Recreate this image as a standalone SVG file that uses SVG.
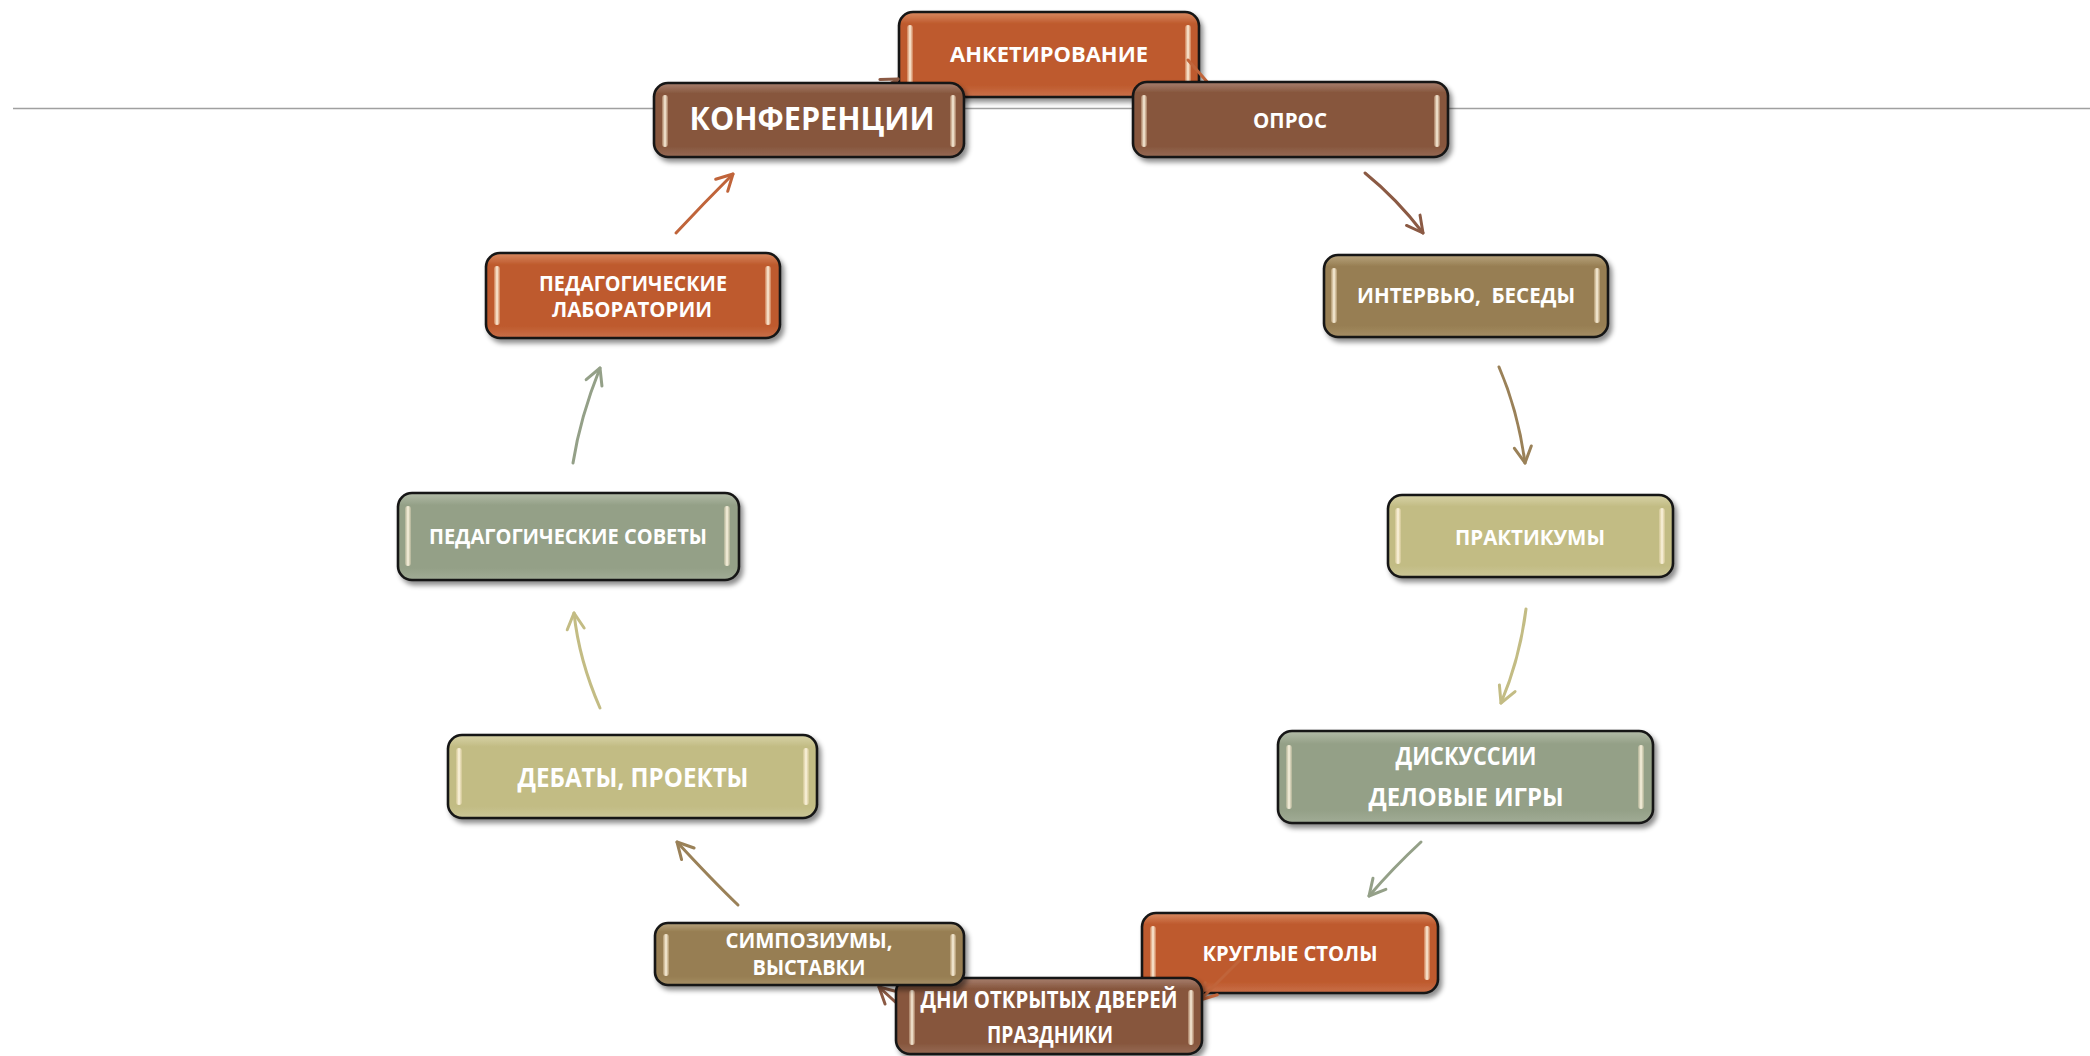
<svg xmlns="http://www.w3.org/2000/svg" width="2090" height="1056" viewBox="0 0 2090 1056">
<defs>
<style>
.box{stroke:#151515;stroke-width:2.6;filter:url(#sh)}
.bar{fill:url(#gbar)}
.t{font-family:"Open Sans","Noto Sans","DejaVu Sans",sans-serif;font-weight:700;fill:#ffffff;text-anchor:middle}
.c{fill:none;stroke-width:3;stroke-linecap:round}
</style>
<filter id="sh" x="-10%" y="-20%" width="125%" height="150%">
<feDropShadow dx="3" dy="4" stdDeviation="2.5" flood-color="#000" flood-opacity="0.45"/>
</filter>
<linearGradient id="gbar" x1="0" y1="0" x2="1" y2="0">
<stop offset="0" stop-color="#FFE9C8" stop-opacity="0.25"/>
<stop offset="0.5" stop-color="#FFF8E6" stop-opacity="0.95"/>
<stop offset="1" stop-color="#FFE9C8" stop-opacity="0.25"/>
</linearGradient>
<linearGradient id="g-or" x1="0" y1="0" x2="0" y2="1">
<stop offset="0" stop-color="#D98A62"/><stop offset="0.14" stop-color="#BE5A2D"/><stop offset="0.86" stop-color="#BE5A2D"/><stop offset="1" stop-color="#C9704A"/>
</linearGradient>
<linearGradient id="g-br" x1="0" y1="0" x2="0" y2="1">
<stop offset="0" stop-color="#A88070"/><stop offset="0.14" stop-color="#87573E"/><stop offset="0.86" stop-color="#87573E"/><stop offset="1" stop-color="#966a55"/>
</linearGradient>
<linearGradient id="g-ol" x1="0" y1="0" x2="0" y2="1">
<stop offset="0" stop-color="#B8A47E"/><stop offset="0.14" stop-color="#977E52"/><stop offset="0.86" stop-color="#977E52"/><stop offset="1" stop-color="#A58E66"/>
</linearGradient>
<linearGradient id="g-kh" x1="0" y1="0" x2="0" y2="1">
<stop offset="0" stop-color="#D8D3A8"/><stop offset="0.14" stop-color="#C2BC84"/><stop offset="0.86" stop-color="#C2BC84"/><stop offset="1" stop-color="#CBC697"/>
</linearGradient>
<linearGradient id="g-gr" x1="0" y1="0" x2="0" y2="1">
<stop offset="0" stop-color="#B3BCA8"/><stop offset="0.14" stop-color="#94A087"/><stop offset="0.86" stop-color="#94A087"/><stop offset="1" stop-color="#A1AC96"/>
</linearGradient>
<marker id="m-or" viewBox="-20 -12 24 24" refX="0" refY="0" markerWidth="24" markerHeight="24" markerUnits="userSpaceOnUse" orient="auto" overflow="visible"><path d="M-16,-8.5 L0,0 L-16,8.5" fill="none" stroke="#C0643A" stroke-width="3" stroke-linecap="round" stroke-linejoin="round"/></marker>
<marker id="m-br" viewBox="-20 -12 24 24" refX="0" refY="0" markerWidth="24" markerHeight="24" markerUnits="userSpaceOnUse" orient="auto" overflow="visible"><path d="M-16,-8.5 L0,0 L-16,8.5" fill="none" stroke="#8B5A44" stroke-width="3" stroke-linecap="round" stroke-linejoin="round"/></marker>
<marker id="m-ol" viewBox="-20 -12 24 24" refX="0" refY="0" markerWidth="24" markerHeight="24" markerUnits="userSpaceOnUse" orient="auto" overflow="visible"><path d="M-16,-8.5 L0,0 L-16,8.5" fill="none" stroke="#9A8158" stroke-width="3" stroke-linecap="round" stroke-linejoin="round"/></marker>
<marker id="m-kh" viewBox="-20 -12 24 24" refX="0" refY="0" markerWidth="24" markerHeight="24" markerUnits="userSpaceOnUse" orient="auto" overflow="visible"><path d="M-16,-8.5 L0,0 L-16,8.5" fill="none" stroke="#C3BC84" stroke-width="3" stroke-linecap="round" stroke-linejoin="round"/></marker>
<marker id="m-gr" viewBox="-20 -12 24 24" refX="0" refY="0" markerWidth="24" markerHeight="24" markerUnits="userSpaceOnUse" orient="auto" overflow="visible"><path d="M-16,-8.5 L0,0 L-16,8.5" fill="none" stroke="#94A088" stroke-width="3" stroke-linecap="round" stroke-linejoin="round"/></marker>
</defs>
<rect x="0" y="0" width="2090" height="1056" fill="#ffffff"/>
<line x1="13" y1="108.5" x2="2090" y2="108.5" stroke="#A0A0A0" stroke-width="1.5"/>

<g id="node-anketirovanie">
<rect class="box" x="899" y="12" width="300" height="85" rx="14" fill="url(#g-or)"/>
<rect class="bar" x="907" y="25" width="6" height="60" rx="3"/>
<rect class="bar" x="1185" y="25" width="6" height="60" rx="3"/>
<text class="t" x="1049" y="62" font-size="22" textLength="198" lengthAdjust="spacingAndGlyphs">АНКЕТИРОВАНИЕ</text>
</g>
<g id="node-kruglye">
<rect class="box" x="1142" y="913" width="296" height="80" rx="14" fill="url(#g-or)"/>
<rect class="bar" x="1150" y="926" width="6" height="54" rx="3"/>
<rect class="bar" x="1424" y="926" width="6" height="54" rx="3"/>
<text class="t" x="1290" y="961" font-size="22" textLength="175" lengthAdjust="spacingAndGlyphs">КРУГЛЫЕ СТОЛЫ</text>
</g>

<g id="connectors">
<path class="c" stroke="#8B5A44" marker-end="url(#m-br)" d="M850,112 Q875,92 898,79"/>
<path class="c" stroke="#C0643A" marker-end="url(#m-or)" d="M1188,60 L1230,108"/>
<path class="c" stroke="#8B5A44" marker-end="url(#m-br)" d="M1365,173 Q1397,199 1423,233"/>
<path class="c" stroke="#9A8158" marker-end="url(#m-ol)" d="M1499,367 Q1518,411 1525,463"/>
<path class="c" stroke="#C3BC84" marker-end="url(#m-kh)" d="M1526,609 Q1520,658 1501,703"/>
<path class="c" stroke="#94A088" marker-end="url(#m-gr)" d="M1421,842 Q1393,868 1369,896"/>
<path class="c" stroke="#C0643A" marker-end="url(#m-or)" d="M1240,960 L1200,1000"/>
<path class="c" stroke="#8B5A44" marker-end="url(#m-br)" d="M915,1020 L879,987"/>
<path class="c" stroke="#9A8158" marker-end="url(#m-ol)" d="M738,905 Q712,880 677,842"/>
<path class="c" stroke="#C3BC84" marker-end="url(#m-kh)" d="M600,708 Q579,660 574,613"/>
<path class="c" stroke="#94A088" marker-end="url(#m-gr)" d="M573,463 Q580,418 600,368"/>
<path class="c" stroke="#C0643A" marker-end="url(#m-or)" d="M676,233 Q704,203 733,174"/>
</g>

<g id="node-konferencii">
<rect class="box" x="654" y="83" width="310" height="74" rx="14" fill="url(#g-br)"/>
<rect class="bar" x="662" y="95" width="6" height="52" rx="3"/>
<rect class="bar" x="950" y="95" width="6" height="52" rx="3"/>
<text class="t" x="812" y="130" font-size="32" textLength="245" lengthAdjust="spacingAndGlyphs">КОНФЕРЕНЦИИ</text>
</g>
<g id="node-opros">
<rect class="box" x="1133" y="82" width="315" height="75" rx="14" fill="url(#g-br)"/>
<rect class="bar" x="1141" y="95" width="6" height="52" rx="3"/>
<rect class="bar" x="1434" y="95" width="6" height="52" rx="3"/>
<text class="t" x="1290" y="128" font-size="22" textLength="74" lengthAdjust="spacingAndGlyphs">ОПРОС</text>
</g>
<g id="node-intervyu">
<rect class="box" x="1324" y="255" width="284" height="82" rx="14" fill="url(#g-ol)"/>
<rect class="bar" x="1331" y="268" width="6" height="55" rx="3"/>
<rect class="bar" x="1594" y="268" width="6" height="55" rx="3"/>
<text class="t" x="1466" y="303" font-size="22" textLength="218" lengthAdjust="spacingAndGlyphs" xml:space="preserve">ИНТЕРВЬЮ,&#160; БЕСЕДЫ</text>
</g>
<g id="node-praktikumy">
<rect class="box" x="1388" y="495" width="285" height="82" rx="14" fill="url(#g-kh)"/>
<rect class="bar" x="1395" y="508" width="6" height="56" rx="3"/>
<rect class="bar" x="1659" y="508" width="6" height="56" rx="3"/>
<text class="t" x="1530" y="545" font-size="21" textLength="150" lengthAdjust="spacingAndGlyphs">ПРАКТИКУМЫ</text>
</g>
<g id="node-diskussii">
<rect class="box" x="1278" y="731" width="375" height="92" rx="14" fill="url(#g-gr)"/>
<rect class="bar" x="1286" y="745" width="6" height="64" rx="3"/>
<rect class="bar" x="1638" y="745" width="6" height="64" rx="3"/>
<text class="t" x="1466" y="765" font-size="25" textLength="141" lengthAdjust="spacingAndGlyphs">ДИСКУССИИ</text>
<text class="t" x="1466" y="806" font-size="25" textLength="195" lengthAdjust="spacingAndGlyphs">ДЕЛОВЫЕ ИГРЫ</text>
</g>
<g id="node-dni">
<rect class="box" x="896" y="978" width="306" height="76" rx="14" fill="url(#g-br)"/>
<rect class="bar" x="909" y="990" width="6" height="55" rx="3"/>
<rect class="bar" x="1188" y="990" width="6" height="55" rx="3"/>
<text class="t" x="1049" y="1008" font-size="24" textLength="257" lengthAdjust="spacingAndGlyphs">ДНИ ОТКРЫТЫХ ДВЕРЕЙ</text>
<text class="t" x="1050" y="1043" font-size="24" textLength="126" lengthAdjust="spacingAndGlyphs">ПРАЗДНИКИ</text>
</g>
<g id="node-simpoziumy">
<rect class="box" x="655" y="923" width="309" height="62" rx="13" fill="url(#g-ol)"/>
<rect class="bar" x="663" y="934" width="6" height="42" rx="3"/>
<rect class="bar" x="950" y="934" width="6" height="42" rx="3"/>
<text class="t" x="809" y="948" font-size="21" textLength="167" lengthAdjust="spacingAndGlyphs">СИМПОЗИУМЫ,</text>
<text class="t" x="809" y="975" font-size="21" textLength="113" lengthAdjust="spacingAndGlyphs">ВЫСТАВКИ</text>
</g>
<g id="node-debaty">
<rect class="box" x="448" y="735" width="369" height="83" rx="14" fill="url(#g-kh)"/>
<rect class="bar" x="456" y="748" width="6" height="57" rx="3"/>
<rect class="bar" x="803" y="748" width="6" height="57" rx="3"/>
<text class="t" x="633" y="787" font-size="27" textLength="231" lengthAdjust="spacingAndGlyphs">ДЕБАТЫ, ПРОЕКТЫ</text>
</g>
<g id="node-pedsovety">
<rect class="box" x="398" y="493" width="341" height="87" rx="14" fill="url(#g-gr)"/>
<rect class="bar" x="405" y="506" width="6" height="60" rx="3"/>
<rect class="bar" x="724" y="506" width="6" height="60" rx="3"/>
<text class="t" x="568" y="544" font-size="21" textLength="278" lengthAdjust="spacingAndGlyphs">ПЕДАГОГИЧЕСКИЕ СОВЕТЫ</text>
</g>
<g id="node-laboratorii">
<rect class="box" x="486" y="253" width="294" height="85" rx="14" fill="url(#g-or)"/>
<rect class="bar" x="494" y="266" width="6" height="59" rx="3"/>
<rect class="bar" x="765" y="266" width="6" height="59" rx="3"/>
<text class="t" x="633" y="291" font-size="22" textLength="188" lengthAdjust="spacingAndGlyphs">ПЕДАГОГИЧЕСКИЕ</text>
<text class="t" x="632" y="317" font-size="22" textLength="160" lengthAdjust="spacingAndGlyphs">ЛАБОРАТОРИИ</text>
</g>
</svg>
